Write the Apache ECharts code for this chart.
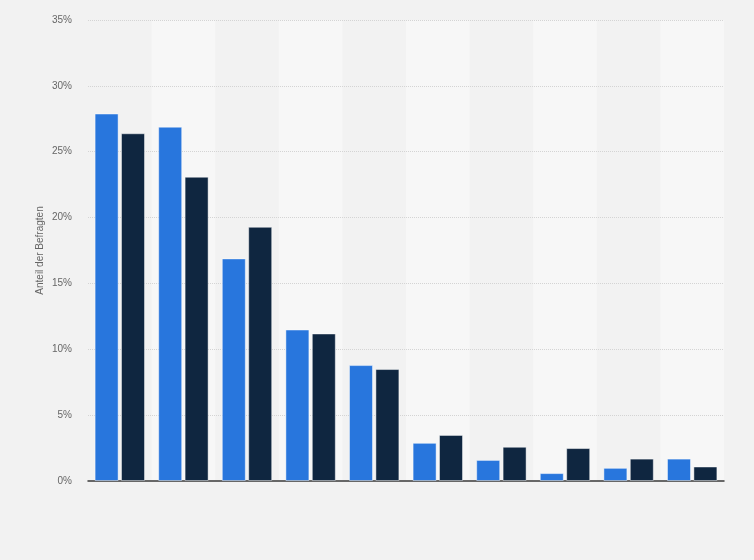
<!DOCTYPE html>
<html>
<head>
<meta charset="utf-8">
<script src="https://cdn.jsdelivr.net/npm/echarts@6/dist/echarts.min.js"></script>
<style>
html,body{margin:0;padding:0;background:#f2f2f2;}
#chart{width:754px;height:560px;}
</style>
</head>
<body>
<div id="chart"></div>
<script>
const categories = ['1','2','3','4','5','6','7','8','9','10'];
const seriesA = [27.9, 26.9, 16.9, 11.5, 8.8, 2.9, 1.6, 0.6, 1.0, 1.7];
const seriesB = [26.4, 23.1, 19.3, 11.2, 8.5, 3.5, 2.6, 2.5, 1.7, 1.1];
const yTicks = { min: 0, max: 35, interval: 5 };
const yAxisName = 'Anteil der Befragten';

const chart = echarts.init(document.getElementById('chart'), null, {renderer:'canvas'});
chart.setOption({
  backgroundColor: '#f2f2f2',
  animation: false,
  grid: { left: 88, right: 30, top: 20, bottom: 79, containLabel: false },
  xAxis: {
    type: 'category',
    data: categories,
    z: 0,
    axisLine: { show: true, lineStyle: { color: '#3a3a3a', width: 1.5 } },
    axisTick: { show: false },
    axisLabel: { show: false },
    splitArea: { show: true, areaStyle: { color: ['rgba(0,0,0,0)', '#f7f7f7'] } }
  },
  yAxis: {
    type: 'value',
    z: 1,
    min: yTicks.min, max: yTicks.max, interval: yTicks.interval,
    name: yAxisName,
    nameLocation: 'middle',
    nameGap: 43,
    nameMoveOverlap: false,
    nameTextStyle: { color: '#666', fontSize: 10, fontFamily: 'Liberation Sans, Arial, sans-serif' },
    axisLine: { show: false },
    axisTick: { show: false },
    axisLabel: { formatter: '{value}%', color: '#666', fontSize: 10, margin: 16, fontFamily: 'Liberation Sans, Arial, sans-serif' },
    splitLine: { show: true, showMinLine: false, lineStyle: { color: '#d4d4d4', type: 'dotted', width: 1 } }
  },
  series: [
    {
      type: 'bar', data: seriesA, barWidth: 24, barGap: '10%', z: 3,
      itemStyle: { color: '#2876dd', borderColor: 'rgba(255,255,255,0.45)', borderWidth: 1 }
    },
    {
      type: 'bar', data: seriesB, barWidth: 24, z: 3,
      itemStyle: { color: '#0f2640', borderColor: 'rgba(255,255,255,0.45)', borderWidth: 1 }
    }
  ]
});
</script>
</body>
</html>
